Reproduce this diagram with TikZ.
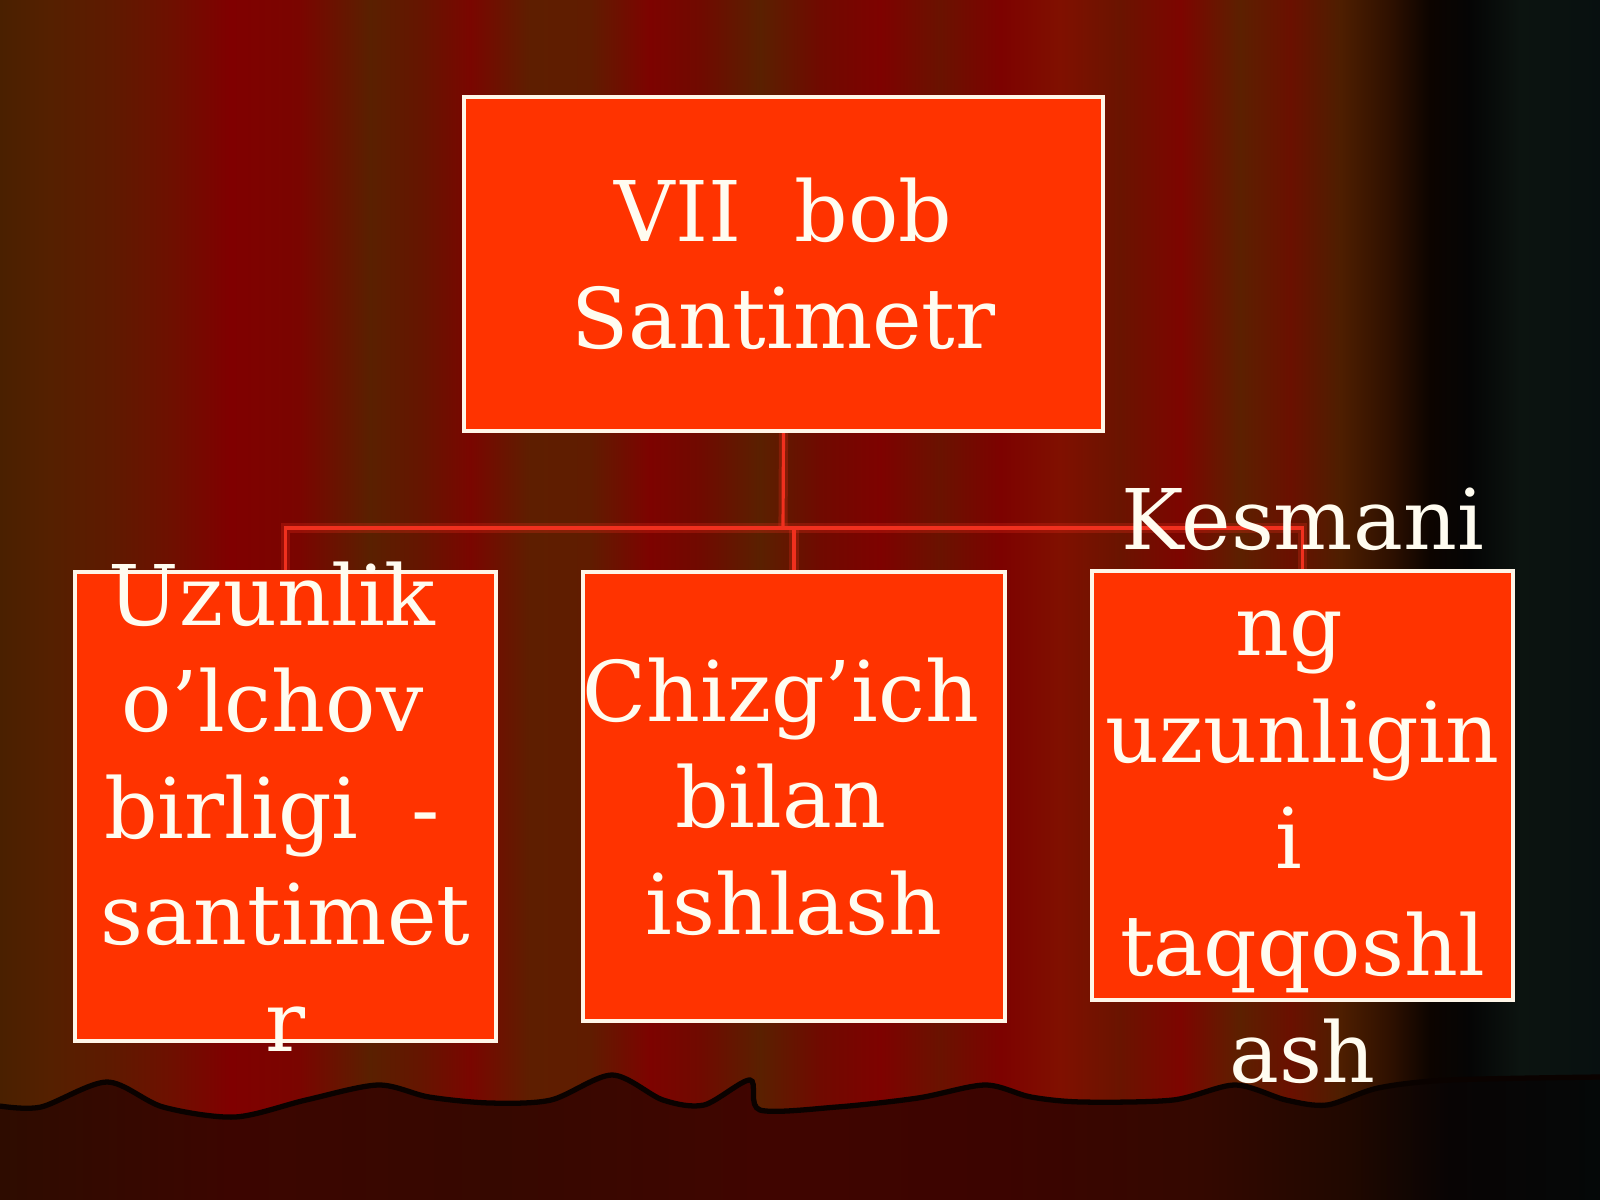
\documentclass[tikz,border=0pt]{standalone}
\usepackage{fontspec}
\setmainfont{DejaVu Serif}
\usepackage{xcolor}
\usepackage{tikz}
\usetikzlibrary{
  positioning,
  calc
}
\definecolor{boxfill}{HTML}{FF3300}
\definecolor{boxline}{HTML}{FFF6E8}
\definecolor{txtcolor}{HTML}{FFFCF0}
\definecolor{linkcolor}{HTML}{F0301E}
\definecolor{hemline}{HTML}{0A0200}
\newcommand{\tsp}{\hbox{\ }}
% curtain stripes, the picture's width sits between 25bp and 75bp
\pgfdeclarehorizontalshading{curtain}{100bp}{
  rgb(0bp)=(0.29,0.125,0); rgb(25bp)=(0.29,0.125,0); rgb(26.56bp)=(0.333,0.125,0);
  rgb(28.44bp)=(0.369,0.102,0); rgb(30.31bp)=(0.431,0.063,0); rgb(32.19bp)=(0.502,0,0);
  rgb(34.38bp)=(0.478,0.02,0); rgb(36.56bp)=(0.353,0.125,0); rgb(38.13bp)=(0.396,0.082,0);
  rgb(39.69bp)=(0.478,0.024,0); rgb(41.56bp)=(0.369,0.118,0); rgb(43.44bp)=(0.376,0.11,0);
  rgb(45.31bp)=(0.49,0.012,0); rgb(46.88bp)=(0.439,0.039,0); rgb(48.75bp)=(0.353,0.125,0);
  rgb(50.63bp)=(0.439,0.039,0); rgb(52.5bp)=(0.494,0.008,0); rgb(54.38bp)=(0.416,0.071,0);
  rgb(56.25bp)=(0.49,0.008,0); rgb(58.13bp)=(0.502,0.063,0); rgb(60bp)=(0.416,0.078,0);
  rgb(61.88bp)=(0.49,0.02,0); rgb(63.75bp)=(0.361,0.125,0); rgb(65.31bp)=(0.416,0.063,0);
  rgb(66.88bp)=(0.306,0.118,0); rgb(68.44bp)=(0.18,0.063,0); rgb(69.69bp)=(0.047,0.016,0);
  rgb(70.94bp)=(0.02,0.02,0.02); rgb(72.5bp)=(0.047,0.078,0.063);
  rgb(75bp)=(0.031,0.063,0.063); rgb(100bp)=(0.031,0.063,0.063)}
\pgfdeclarehorizontalshading{curtainhem}{100bp}{
  rgb(0bp)=(0.18,0.047,0); rgb(25bp)=(0.18,0.047,0); rgb(32.19bp)=(0.235,0.02,0);
  rgb(40.63bp)=(0.212,0.031,0); rgb(48.75bp)=(0.251,0.02,0); rgb(56.25bp)=(0.235,0.016,0);
  rgb(62.5bp)=(0.204,0.031,0); rgb(67.19bp)=(0.125,0.031,0); rgb(70.31bp)=(0.031,0.016,0.016);
  rgb(75bp)=(0.02,0.031,0.031); rgb(100bp)=(0.02,0.031,0.031)}

\begin{document}
\begin{tikzpicture}[
  x=0.01cm, y=-0.01cm,
  box/.style={draw=boxline, line width=1.1pt, fill=boxfill},
  txt/.style={text=txtcolor, align=center, inner sep=0pt,
    font=\fontsize{23.8}{30.3}\selectfont},
  link/.style={draw=linkcolor, line width=0.9pt,
    preaction={draw=linkcolor, line width=2.6pt, opacity=0.25}},
]
  \useasboundingbox (0,0) rectangle (1600,1200);

  % Curtain
  \shade[shading=curtain] (0,0) rectangle (1600,1200);
  \shade[shading=curtainhem] plot[smooth] coordinates {(0,1106) (41,1107) (107,1082)
    (163,1107) (235,1117) (306,1100) (378,1085) (429,1097) (490,1103) (551,1100)
    (612,1075) (663,1100) (704,1105) (750,1080) (760,1110) (837,1107) (918,1098)
    (985,1085) (1031,1097) (1082,1102) (1173,1100) (1235,1085) (1286,1100)
    (1327,1105) (1378,1088) (1449,1080) (1600,1077)}
    -- (1600,1200) -- (0,1200) -- cycle;
  \draw[hemline, line width=1.5pt] plot[smooth] coordinates {(0,1106) (41,1107) (107,1082)
    (163,1107) (235,1117) (306,1100) (378,1085) (429,1097) (490,1103) (551,1100)
    (612,1075) (663,1100) (704,1105) (750,1080) (760,1110) (837,1107) (918,1098)
    (985,1085) (1031,1097) (1082,1102) (1173,1100) (1235,1085) (1286,1100)
    (1327,1105) (1378,1088) (1449,1080) (1600,1077)};

  % Boxes
  \node[box, minimum width=6.39cm, minimum height=3.34cm] (chapter) at (783.5,264) {};
  \node[box, minimum width=4.21cm, minimum height=4.69cm] (unit) at (285.5,806.5) {};
  \node[box, minimum width=4.22cm, minimum height=4.49cm] (ruler) at (794,796.5) {};
  \node[box, minimum width=4.21cm, minimum height=4.29cm] (segment) at (1302.5,785.5) {};

  % Connectors
  \coordinate (bus) at (783,528);
  \draw[link] (chapter.south) -- (bus);
  \draw[link] (unit.north) |- (segment.north |- bus) -- (segment.north);
  \draw[link] (ruler.north) -- (ruler.north |- bus);

  % Texts
  \node[txt] (chaptertxt) at (chapter.center) {VII\ \ bob\\Santimetr};
  \node[txt] (unittxt) at (unit.center)
    {Uzunlik\tsp\\o’lchov\tsp\\birligi\ \ -\tsp\\santimet\\r};
  \node[txt] (rulertxt) at (ruler.center) {Chizg’ich\tsp\\bilan\tsp\\ishlash};
  \node[txt] (segmenttxt) at (segment.center)
    {Kesmani\\ng\tsp\\uzunligin\\i\tsp\\taqqoshl\\ash};
\end{tikzpicture}
\end{document}
